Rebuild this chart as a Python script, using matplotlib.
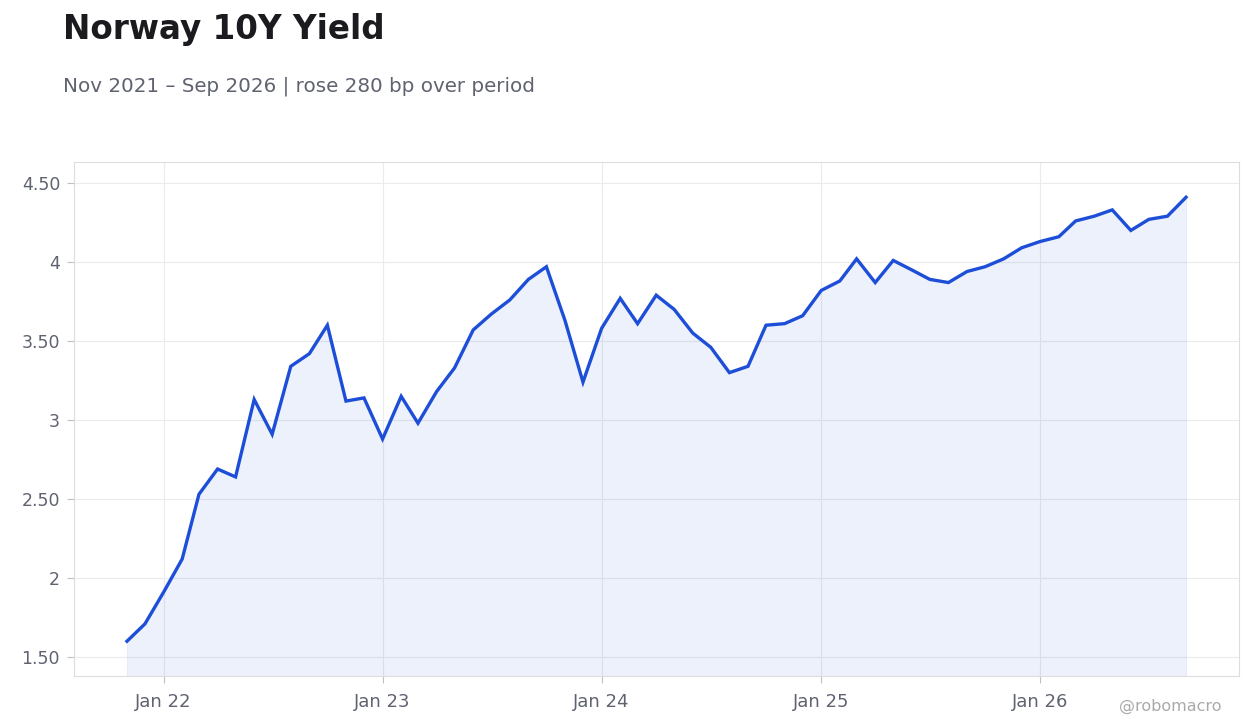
import matplotlib
matplotlib.use("Agg")
import matplotlib.pyplot as plt
import matplotlib.dates as mdates
from matplotlib.ticker import FuncFormatter
import pandas as pd

# Data
start_month = "2021-11-01"
yields = [1.60, 1.71,
          1.91, 2.12, 2.53, 2.69, 2.64, 3.13, 2.91, 3.34, 3.42, 3.60, 3.12, 3.14,
          2.88, 3.15, 2.98, 3.18, 3.33, 3.57, 3.67, 3.76, 3.89, 3.97, 3.63, 3.24,
          3.58, 3.77, 3.61, 3.79, 3.70, 3.55, 3.46, 3.30, 3.34, 3.60, 3.61, 3.66,
          3.82, 3.88, 4.02, 3.87, 4.01, 3.95, 3.89, 3.87, 3.94, 3.97, 4.02, 4.09,
          4.13, 4.16, 4.26, 4.29, 4.33, 4.20, 4.27, 4.29, 4.41]
dates = pd.date_range(start_month, periods=len(yields), freq="MS")
title = "Norway 10Y Yield"
subtitle = "Nov 2021 – Sep 2026 | rose 280 bp over period"
y_ticks = [1.5, 2, 2.5, 3, 3.5, 4, 4.5]
x_tick_dates = pd.to_datetime(["2022-01-01", "2023-01-01", "2024-01-01", "2025-01-01", "2026-01-01"])
x_tick_labels = ["Jan 22", "Jan 23", "Jan 24", "Jan 25", "Jan 26"]

line_color = "#1d4ed8"
ymin, ymax = 1.38, 4.633

fig = plt.figure(figsize=(12.6, 7.28), dpi=100)
ax = fig.add_axes([74/1260, 1-676/728, (1239-74)/1260, (676-162)/728])

ax.fill_between(dates, yields, ymin, facecolor=line_color, alpha=0.08,
                edgecolor=line_color, linewidth=0.6)
ax.plot(dates, yields, color=line_color, linewidth=2.4, solid_joinstyle="miter")

ax.set_ylim(ymin, ymax)
ax.margins(x=0.05)
ax.set_yticks(y_ticks)

def fmt(v, pos):
    if abs(v - round(v)) < 1e-9:
        return f"{int(round(v))}"
    return f"{v:.2f}"
ax.yaxis.set_major_formatter(FuncFormatter(fmt))
ax.set_xticks(x_tick_dates)
ax.set_xticklabels(x_tick_labels)

ax.grid(True, color="#ebebeb", linewidth=0.8)
ax.set_axisbelow(True)
for s in ax.spines.values():
    s.set_color("#dddddd")
    s.set_linewidth(0.8)
ax.tick_params(axis="both", colors="#c0c0c0", labelcolor="#5f6370", length=5, width=0.8)
ax.tick_params(axis="x", labelsize=13, pad=7)
ax.tick_params(axis="y", labelsize=12.5, pad=5)

fig.text(63/1260, 1-39.5/728, title, fontsize=23.5, fontweight="bold", color="#1a1a1f", va="baseline", ha="left")
fig.text(63/1260, 1-91.5/728, subtitle, fontsize=14.3, color="#5f6370", va="baseline", ha="left")
fig.text(1222/1260, 1-711/728, "@robomacro", fontsize=11.5, color="#aaaaaa", va="baseline", ha="right")

fig.savefig("out.png", dpi=100, facecolor="white")
